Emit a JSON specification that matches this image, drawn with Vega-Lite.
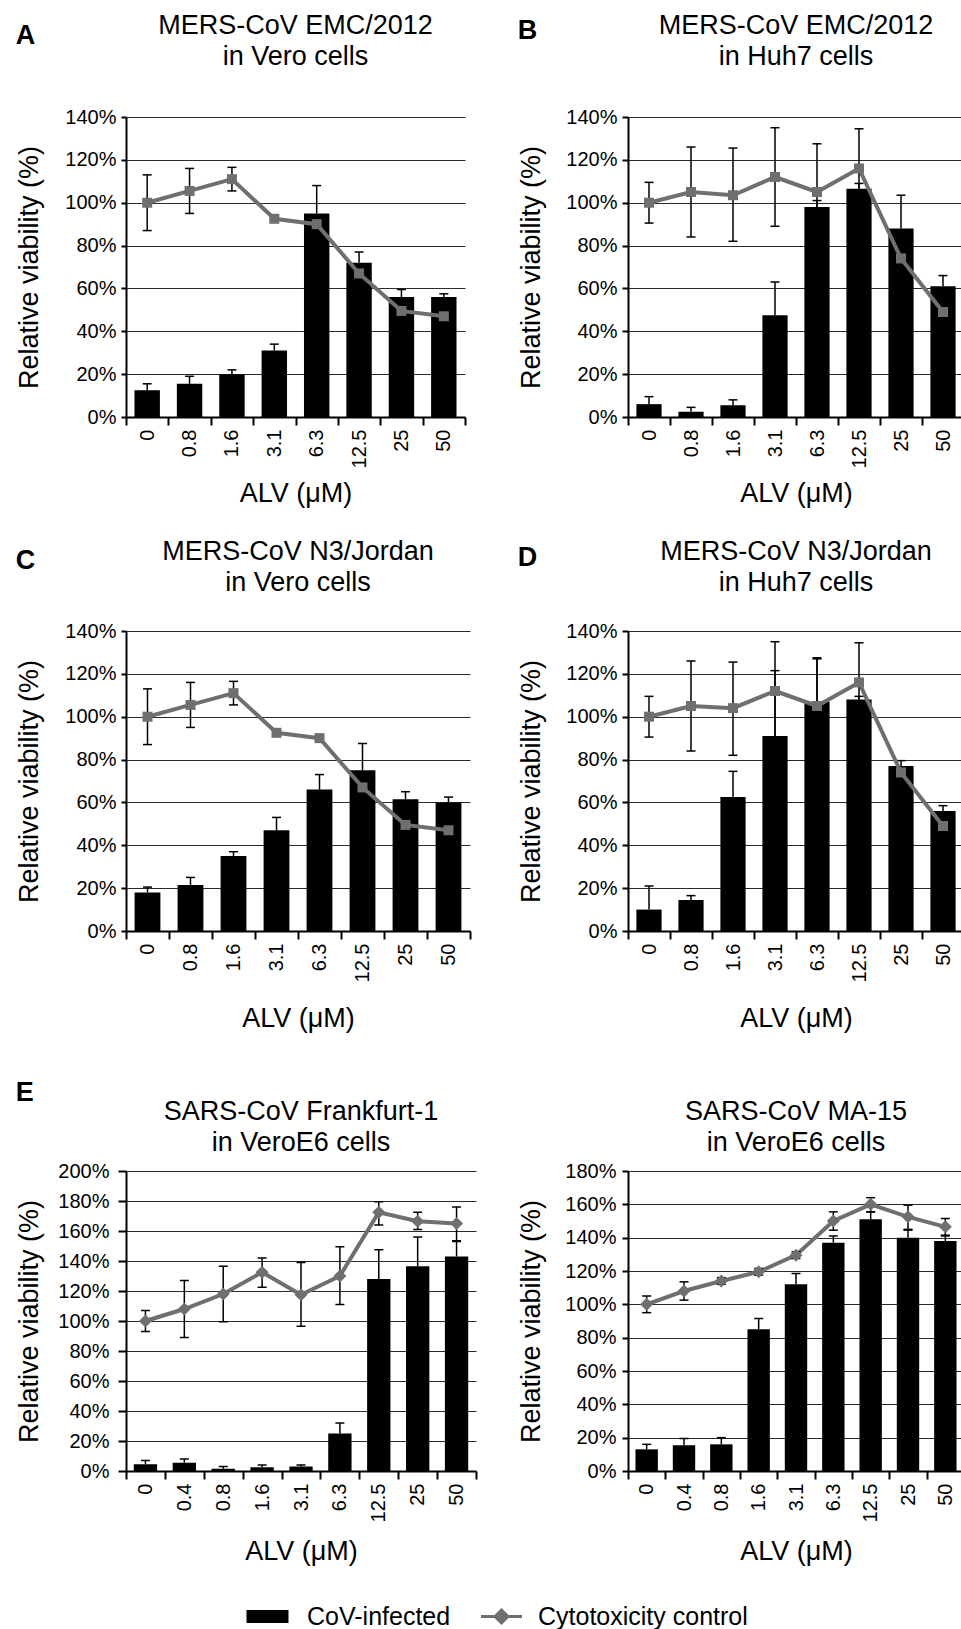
{
  "$schema": "https://vega.github.io/schema/vega-lite/v6.json",
  "padding": {"left": 15, "top": 12, "right": 0, "bottom": 64},
  "config": {
    "font": "Liberation Sans",
    "view": {"stroke": null},
    "title": {"fontSize": 27, "fontWeight": "normal", "lineHeight": 31, "color": "#000000", "frame": "group", "anchor": "middle"},
    "axis": {"labelFontSize": 20, "labelColor": "#000000", "titleFontSize": 27, "titleFontWeight": "normal", "titleColor": "#000000", "domainColor": "#000000", "domainWidth": 2, "tickColor": "#000000", "tickWidth": 2, "labelOverlap": false},
    "axisY": {"grid": true, "gridColor": "#2a2a2a", "gridWidth": 1},
    "axisX": {"grid": false, "labelAngle": -90, "tickSize": 8, "labelPadding": 4},
    "legend": {"labelFontSize": 25, "labelColor": "#000000", "padding": 0, "labelLimit": 400}
  },
  "datasets": {
    "A": [
      {"conc": "0", "inf": 12.5, "inf_hi": 15.5, "ctl": 100, "ctl_lo": 87, "ctl_hi": 113},
      {"conc": "0.8", "inf": 15.5, "inf_hi": 19, "ctl": 105.5, "ctl_lo": 95, "ctl_hi": 116},
      {"conc": "1.6", "inf": 20, "inf_hi": 22, "ctl": 111, "ctl_lo": 105.5, "ctl_hi": 116.5},
      {"conc": "3.1", "inf": 31, "inf_hi": 34, "ctl": 92.5, "ctl_lo": 92.5, "ctl_hi": 92.5},
      {"conc": "6.3", "inf": 95, "inf_hi": 108, "ctl": 90, "ctl_lo": 90, "ctl_hi": 90},
      {"conc": "12.5", "inf": 72, "inf_hi": 77, "ctl": 67, "ctl_lo": 67, "ctl_hi": 67},
      {"conc": "25", "inf": 56, "inf_hi": 59.5, "ctl": 49.5, "ctl_lo": 49.5, "ctl_hi": 49.5},
      {"conc": "50", "inf": 56, "inf_hi": 57.5, "ctl": 47, "ctl_lo": 47, "ctl_hi": 47}
    ],
    "B": [
      {"conc": "0", "inf": 6, "inf_hi": 9.5, "ctl": 100, "ctl_lo": 90.5, "ctl_hi": 109.5},
      {"conc": "0.8", "inf": 2.5, "inf_hi": 4.5, "ctl": 105, "ctl_lo": 84, "ctl_hi": 126},
      {"conc": "1.6", "inf": 5.5, "inf_hi": 8, "ctl": 103.5, "ctl_lo": 82, "ctl_hi": 125.5},
      {"conc": "3.1", "inf": 47.5, "inf_hi": 63, "ctl": 112, "ctl_lo": 89, "ctl_hi": 135},
      {"conc": "6.3", "inf": 98, "inf_hi": 101, "ctl": 105, "ctl_lo": 83, "ctl_hi": 127.5},
      {"conc": "12.5", "inf": 106.5, "inf_hi": 109, "ctl": 116, "ctl_lo": 98, "ctl_hi": 134.5},
      {"conc": "25", "inf": 88, "inf_hi": 103.5, "ctl": 74, "ctl_lo": 74, "ctl_hi": 74},
      {"conc": "50", "inf": 61, "inf_hi": 66, "ctl": 49, "ctl_lo": 49, "ctl_hi": 49}
    ],
    "C": [
      {"conc": "0", "inf": 18, "inf_hi": 20.5, "ctl": 100, "ctl_lo": 87, "ctl_hi": 113},
      {"conc": "0.8", "inf": 21.5, "inf_hi": 25, "ctl": 105.5, "ctl_lo": 95, "ctl_hi": 116},
      {"conc": "1.6", "inf": 35, "inf_hi": 37, "ctl": 111, "ctl_lo": 105.5, "ctl_hi": 116.5},
      {"conc": "3.1", "inf": 47, "inf_hi": 53, "ctl": 92.5, "ctl_lo": 92.5, "ctl_hi": 92.5},
      {"conc": "6.3", "inf": 66, "inf_hi": 73, "ctl": 90, "ctl_lo": 90, "ctl_hi": 90},
      {"conc": "12.5", "inf": 75, "inf_hi": 87.5, "ctl": 67, "ctl_lo": 67, "ctl_hi": 67},
      {"conc": "25", "inf": 61.5, "inf_hi": 65, "ctl": 49.5, "ctl_lo": 49.5, "ctl_hi": 49.5},
      {"conc": "50", "inf": 60, "inf_hi": 62.5, "ctl": 47, "ctl_lo": 47, "ctl_hi": 47}
    ],
    "D": [
      {"conc": "0", "inf": 10, "inf_hi": 21, "ctl": 100, "ctl_lo": 90.5, "ctl_hi": 109.5},
      {"conc": "0.8", "inf": 14.5, "inf_hi": 16.5, "ctl": 105, "ctl_lo": 84, "ctl_hi": 126},
      {"conc": "1.6", "inf": 62.5, "inf_hi": 74.5, "ctl": 104, "ctl_lo": 82, "ctl_hi": 125.5},
      {"conc": "3.1", "inf": 91, "inf_hi": 121.5, "ctl": 112, "ctl_lo": 89, "ctl_hi": 135},
      {"conc": "6.3", "inf": 107, "inf_hi": 127, "ctl": 105, "ctl_lo": 83, "ctl_hi": 127.5},
      {"conc": "12.5", "inf": 108, "inf_hi": 109.5, "ctl": 116, "ctl_lo": 98, "ctl_hi": 134.5},
      {"conc": "25", "inf": 77, "inf_hi": 79.5, "ctl": 74, "ctl_lo": 74, "ctl_hi": 74},
      {"conc": "50", "inf": 56, "inf_hi": 58.5, "ctl": 49, "ctl_lo": 49, "ctl_hi": 49}
    ],
    "E": [
      {"conc": "0", "inf": 4.5, "inf_hi": 7, "ctl": 100, "ctl_lo": 93, "ctl_hi": 107},
      {"conc": "0.4", "inf": 5.5, "inf_hi": 8, "ctl": 108, "ctl_lo": 89, "ctl_hi": 127},
      {"conc": "0.8", "inf": 1.5, "inf_hi": 3, "ctl": 118, "ctl_lo": 99.5, "ctl_hi": 136.5},
      {"conc": "1.6", "inf": 2.5, "inf_hi": 4, "ctl": 132.5, "ctl_lo": 122.5, "ctl_hi": 142},
      {"conc": "3.1", "inf": 3, "inf_hi": 4, "ctl": 117.5, "ctl_lo": 96.5, "ctl_hi": 139},
      {"conc": "6.3", "inf": 25, "inf_hi": 32, "ctl": 130, "ctl_lo": 111, "ctl_hi": 149.5},
      {"conc": "12.5", "inf": 128, "inf_hi": 147.5, "ctl": 172.5, "ctl_lo": 164, "ctl_hi": 179.5},
      {"conc": "25", "inf": 136.5, "inf_hi": 156, "ctl": 166.5, "ctl_lo": 161, "ctl_hi": 172.5},
      {"conc": "50", "inf": 143, "inf_hi": 153, "ctl": 165, "ctl_lo": 153.5, "ctl_hi": 176}
    ],
    "F": [
      {"conc": "0", "inf": 13, "inf_hi": 16, "ctl": 100, "ctl_lo": 95, "ctl_hi": 105},
      {"conc": "0.4", "inf": 15.5, "inf_hi": 19.5, "ctl": 108, "ctl_lo": 102.5, "ctl_hi": 113.5},
      {"conc": "0.8", "inf": 16, "inf_hi": 20, "ctl": 114, "ctl_lo": 112, "ctl_hi": 116},
      {"conc": "1.6", "inf": 85, "inf_hi": 91.5, "ctl": 119.5, "ctl_lo": 117.5, "ctl_hi": 121.5},
      {"conc": "3.1", "inf": 112, "inf_hi": 118.5, "ctl": 129.5, "ctl_lo": 127.5, "ctl_hi": 131.5},
      {"conc": "6.3", "inf": 137, "inf_hi": 141, "ctl": 150, "ctl_lo": 144.5, "ctl_hi": 155.5},
      {"conc": "12.5", "inf": 151, "inf_hi": 155.5, "ctl": 160, "ctl_lo": 155.5, "ctl_hi": 164},
      {"conc": "25", "inf": 140, "inf_hi": 145, "ctl": 152.5, "ctl_lo": 144.5, "ctl_hi": 159.5},
      {"conc": "50", "inf": 138, "inf_hi": 141, "ctl": 146.5, "ctl_lo": 141.5, "ctl_hi": 151.5}
    ]
  },
  "spacing": 47,
  "vconcat": [
    {
      "spacing": 31,
      "vconcat": [
        {
          "spacing": 51,
          "hconcat": [
            {
              "title": {"text": "A", "anchor": "start", "frame": "bounds", "offset": -38, "fontSize": 27, "fontWeight": "bold"},
              "vconcat": [{
                "width": 339, "height": 300,
                "title": {"text": ["MERS-CoV EMC/2012", "in Vero cells"], "offset": 36},
                "data": {"name": "A"},
                "encoding": {"x": {"field": "conc", "type": "ordinal", "sort": ["0","0.8","1.6","3.1","6.3","12.5","25","50"], "scale": {"paddingInner": 0, "paddingOuter": 0}, "axis": {"title": "ALV (μM)", "titlePadding": 13, "tickBand": "extent"}}},
                "layer": [
                  {"mark": {"type": "bar", "width": {"band": 0.6}}, "encoding": {"y": {"field": "inf", "type": "quantitative", "scale": {"domain": [0, 140], "nice": false}, "axis": {"title": "Relative viability (%)", "values": [0,20,40,60,80,100,120,140], "labelExpr": "datum.value + '%'", "tickSize": 5, "labelPadding": 5, "titlePadding": 21}}, "fill": {"datum": "CoV-infected", "scale": {"range": ["#000000"]}, "legend": {"orient": "none", "legendX": 129, "legendY": 1487, "title": null, "symbolType": "M-2,-0.62H2V0.62H-2Z", "symbolSize": 441, "symbolStrokeWidth": 0, "labelOffset": 27}}}},
                  {"mark": {"type": "rule", "color": "#000000", "strokeWidth": 1.5}, "encoding": {"y": {"field": "inf", "type": "quantitative", "axis": {"title": "Relative viability (%)", "values": [0,20,40,60,80,100,120,140], "labelExpr": "datum.value + '%'", "tickSize": 5, "labelPadding": 5, "titlePadding": 21}}, "y2": {"field": "inf_hi"}}},
                  {"mark": {"type": "tick", "color": "#000000", "thickness": 1.5, "size": 9, "opacity": 1}, "encoding": {"y": {"field": "inf_hi", "type": "quantitative", "axis": {"title": "Relative viability (%)", "values": [0,20,40,60,80,100,120,140], "labelExpr": "datum.value + '%'", "tickSize": 5, "labelPadding": 5, "titlePadding": 21}}}},
                  {"mark": {"type": "line", "strokeWidth": 4}, "encoding": {"y": {"field": "ctl", "type": "quantitative", "axis": {"title": "Relative viability (%)", "values": [0,20,40,60,80,100,120,140], "labelExpr": "datum.value + '%'", "tickSize": 5, "labelPadding": 5, "titlePadding": 21}}, "stroke": {"datum": "Cytotoxicity control", "scale": {"range": ["#6f6f6f"]}, "legend": {"orient": "none", "legendX": 363, "legendY": 1487, "title": null, "symbolType": "M-2,0H2M0,-0.63L0.63,0L0,0.63L-0.63,0Z", "symbolSize": 420, "symbolStrokeWidth": 3, "symbolFillColor": "#6f6f6f", "labelOffset": 24}}}},
                  {"mark": {"type": "rule", "color": "#000000", "strokeWidth": 1.5}, "encoding": {"y": {"field": "ctl_lo", "type": "quantitative", "axis": {"title": "Relative viability (%)", "values": [0,20,40,60,80,100,120,140], "labelExpr": "datum.value + '%'", "tickSize": 5, "labelPadding": 5, "titlePadding": 21}}, "y2": {"field": "ctl_hi"}}},
                  {"mark": {"type": "tick", "color": "#000000", "thickness": 1.5, "size": 9, "opacity": 1}, "encoding": {"y": {"field": "ctl_lo", "type": "quantitative", "axis": {"title": "Relative viability (%)", "values": [0,20,40,60,80,100,120,140], "labelExpr": "datum.value + '%'", "tickSize": 5, "labelPadding": 5, "titlePadding": 21}}}},
                  {"mark": {"type": "tick", "color": "#000000", "thickness": 1.5, "size": 9, "opacity": 1}, "encoding": {"y": {"field": "ctl_hi", "type": "quantitative", "axis": {"title": "Relative viability (%)", "values": [0,20,40,60,80,100,120,140], "labelExpr": "datum.value + '%'", "tickSize": 5, "labelPadding": 5, "titlePadding": 21}}}},
                  {"mark": {"type": "point", "shape": "square", "filled": true, "size": 100, "color": "#6f6f6f", "opacity": 1}, "encoding": {"y": {"field": "ctl", "type": "quantitative", "axis": {"title": "Relative viability (%)", "values": [0,20,40,60,80,100,120,140], "labelExpr": "datum.value + '%'", "tickSize": 5, "labelPadding": 5, "titlePadding": 21}}}}
                ]
              }]
            },
            {
              "title": {"text": "B", "anchor": "start", "frame": "bounds", "offset": -33, "fontSize": 27, "fontWeight": "bold"},
              "vconcat": [{
                "width": 336, "height": 300,
                "title": {"text": ["MERS-CoV EMC/2012", "in Huh7 cells"], "offset": 36},
                "data": {"name": "B"},
                "encoding": {"x": {"field": "conc", "type": "ordinal", "sort": ["0","0.8","1.6","3.1","6.3","12.5","25","50"], "scale": {"paddingInner": 0, "paddingOuter": 0}, "axis": {"title": "ALV (μM)", "titlePadding": 13, "tickBand": "extent"}}},
                "layer": [
                  {"mark": {"type": "bar", "width": {"band": 0.6}}, "encoding": {"y": {"field": "inf", "type": "quantitative", "scale": {"domain": [0, 140], "nice": false}, "axis": {"title": "Relative viability (%)", "values": [0,20,40,60,80,100,120,140], "labelExpr": "datum.value + '%'", "tickSize": 6, "labelPadding": 5, "titlePadding": 20}}, "fill": {"datum": "CoV-infected", "scale": {"range": ["#000000"]}, "legend": {"orient": "none", "legendX": 129, "legendY": 1487, "title": null, "symbolType": "M-2,-0.62H2V0.62H-2Z", "symbolSize": 441, "symbolStrokeWidth": 0, "labelOffset": 27}}}},
                  {"mark": {"type": "rule", "color": "#000000", "strokeWidth": 1.5}, "encoding": {"y": {"field": "inf", "type": "quantitative", "axis": {"title": "Relative viability (%)", "values": [0,20,40,60,80,100,120,140], "labelExpr": "datum.value + '%'", "tickSize": 6, "labelPadding": 5, "titlePadding": 20}}, "y2": {"field": "inf_hi"}}},
                  {"mark": {"type": "tick", "color": "#000000", "thickness": 1.5, "size": 9, "opacity": 1}, "encoding": {"y": {"field": "inf_hi", "type": "quantitative", "axis": {"title": "Relative viability (%)", "values": [0,20,40,60,80,100,120,140], "labelExpr": "datum.value + '%'", "tickSize": 6, "labelPadding": 5, "titlePadding": 20}}}},
                  {"mark": {"type": "line", "strokeWidth": 4}, "encoding": {"y": {"field": "ctl", "type": "quantitative", "axis": {"title": "Relative viability (%)", "values": [0,20,40,60,80,100,120,140], "labelExpr": "datum.value + '%'", "tickSize": 6, "labelPadding": 5, "titlePadding": 20}}, "stroke": {"datum": "Cytotoxicity control", "scale": {"range": ["#6f6f6f"]}, "legend": {"orient": "none", "legendX": 363, "legendY": 1487, "title": null, "symbolType": "M-2,0H2M0,-0.63L0.63,0L0,0.63L-0.63,0Z", "symbolSize": 420, "symbolStrokeWidth": 3, "symbolFillColor": "#6f6f6f", "labelOffset": 24}}}},
                  {"mark": {"type": "rule", "color": "#000000", "strokeWidth": 1.5}, "encoding": {"y": {"field": "ctl_lo", "type": "quantitative", "axis": {"title": "Relative viability (%)", "values": [0,20,40,60,80,100,120,140], "labelExpr": "datum.value + '%'", "tickSize": 6, "labelPadding": 5, "titlePadding": 20}}, "y2": {"field": "ctl_hi"}}},
                  {"mark": {"type": "tick", "color": "#000000", "thickness": 1.5, "size": 9, "opacity": 1}, "encoding": {"y": {"field": "ctl_lo", "type": "quantitative", "axis": {"title": "Relative viability (%)", "values": [0,20,40,60,80,100,120,140], "labelExpr": "datum.value + '%'", "tickSize": 6, "labelPadding": 5, "titlePadding": 20}}}},
                  {"mark": {"type": "tick", "color": "#000000", "thickness": 1.5, "size": 9, "opacity": 1}, "encoding": {"y": {"field": "ctl_hi", "type": "quantitative", "axis": {"title": "Relative viability (%)", "values": [0,20,40,60,80,100,120,140], "labelExpr": "datum.value + '%'", "tickSize": 6, "labelPadding": 5, "titlePadding": 20}}}},
                  {"mark": {"type": "point", "shape": "square", "filled": true, "size": 100, "color": "#6f6f6f", "opacity": 1}, "encoding": {"y": {"field": "ctl", "type": "quantitative", "axis": {"title": "Relative viability (%)", "values": [0,20,40,60,80,100,120,140], "labelExpr": "datum.value + '%'", "tickSize": 6, "labelPadding": 5, "titlePadding": 20}}}}
                ]
              }]
            }
          ]
        },
        {
          "spacing": 46,
          "hconcat": [
            {
              "title": {"text": "C", "anchor": "start", "frame": "bounds", "offset": -37, "fontSize": 27, "fontWeight": "bold"},
              "vconcat": [{
                "width": 344, "height": 300,
                "title": {"text": ["MERS-CoV N3/Jordan", "in Vero cells"], "offset": 24},
                "data": {"name": "C"},
                "encoding": {"x": {"field": "conc", "type": "ordinal", "sort": ["0","0.8","1.6","3.1","6.3","12.5","25","50"], "scale": {"paddingInner": 0, "paddingOuter": 0}, "axis": {"title": "ALV (μM)", "titlePadding": 24, "tickBand": "extent"}}},
                "layer": [
                  {"mark": {"type": "bar", "width": {"band": 0.6}}, "encoding": {"y": {"field": "inf", "type": "quantitative", "scale": {"domain": [0, 140], "nice": false}, "axis": {"title": "Relative viability (%)", "values": [0,20,40,60,80,100,120,140], "labelExpr": "datum.value + '%'", "tickSize": 5, "labelPadding": 5, "titlePadding": 21}}, "fill": {"datum": "CoV-infected", "scale": {"range": ["#000000"]}, "legend": {"orient": "none", "legendX": 129, "legendY": 1487, "title": null, "symbolType": "M-2,-0.62H2V0.62H-2Z", "symbolSize": 441, "symbolStrokeWidth": 0, "labelOffset": 27}}}},
                  {"mark": {"type": "rule", "color": "#000000", "strokeWidth": 1.5}, "encoding": {"y": {"field": "inf", "type": "quantitative", "axis": {"title": "Relative viability (%)", "values": [0,20,40,60,80,100,120,140], "labelExpr": "datum.value + '%'", "tickSize": 5, "labelPadding": 5, "titlePadding": 21}}, "y2": {"field": "inf_hi"}}},
                  {"mark": {"type": "tick", "color": "#000000", "thickness": 1.5, "size": 9, "opacity": 1}, "encoding": {"y": {"field": "inf_hi", "type": "quantitative", "axis": {"title": "Relative viability (%)", "values": [0,20,40,60,80,100,120,140], "labelExpr": "datum.value + '%'", "tickSize": 5, "labelPadding": 5, "titlePadding": 21}}}},
                  {"mark": {"type": "line", "strokeWidth": 4}, "encoding": {"y": {"field": "ctl", "type": "quantitative", "axis": {"title": "Relative viability (%)", "values": [0,20,40,60,80,100,120,140], "labelExpr": "datum.value + '%'", "tickSize": 5, "labelPadding": 5, "titlePadding": 21}}, "stroke": {"datum": "Cytotoxicity control", "scale": {"range": ["#6f6f6f"]}, "legend": {"orient": "none", "legendX": 363, "legendY": 1487, "title": null, "symbolType": "M-2,0H2M0,-0.63L0.63,0L0,0.63L-0.63,0Z", "symbolSize": 420, "symbolStrokeWidth": 3, "symbolFillColor": "#6f6f6f", "labelOffset": 24}}}},
                  {"mark": {"type": "rule", "color": "#000000", "strokeWidth": 1.5}, "encoding": {"y": {"field": "ctl_lo", "type": "quantitative", "axis": {"title": "Relative viability (%)", "values": [0,20,40,60,80,100,120,140], "labelExpr": "datum.value + '%'", "tickSize": 5, "labelPadding": 5, "titlePadding": 21}}, "y2": {"field": "ctl_hi"}}},
                  {"mark": {"type": "tick", "color": "#000000", "thickness": 1.5, "size": 9, "opacity": 1}, "encoding": {"y": {"field": "ctl_lo", "type": "quantitative", "axis": {"title": "Relative viability (%)", "values": [0,20,40,60,80,100,120,140], "labelExpr": "datum.value + '%'", "tickSize": 5, "labelPadding": 5, "titlePadding": 21}}}},
                  {"mark": {"type": "tick", "color": "#000000", "thickness": 1.5, "size": 9, "opacity": 1}, "encoding": {"y": {"field": "ctl_hi", "type": "quantitative", "axis": {"title": "Relative viability (%)", "values": [0,20,40,60,80,100,120,140], "labelExpr": "datum.value + '%'", "tickSize": 5, "labelPadding": 5, "titlePadding": 21}}}},
                  {"mark": {"type": "point", "shape": "square", "filled": true, "size": 100, "color": "#6f6f6f", "opacity": 1}, "encoding": {"y": {"field": "ctl", "type": "quantitative", "axis": {"title": "Relative viability (%)", "values": [0,20,40,60,80,100,120,140], "labelExpr": "datum.value + '%'", "tickSize": 5, "labelPadding": 5, "titlePadding": 21}}}}
                ]
              }]
            },
            {
              "title": {"text": "D", "anchor": "start", "frame": "bounds", "offset": -34, "fontSize": 27, "fontWeight": "bold"},
              "vconcat": [{
                "width": 336, "height": 300,
                "title": {"text": ["MERS-CoV N3/Jordan", "in Huh7 cells"], "offset": 24},
                "data": {"name": "D"},
                "encoding": {"x": {"field": "conc", "type": "ordinal", "sort": ["0","0.8","1.6","3.1","6.3","12.5","25","50"], "scale": {"paddingInner": 0, "paddingOuter": 0}, "axis": {"title": "ALV (μM)", "titlePadding": 24, "tickBand": "extent"}}},
                "layer": [
                  {"mark": {"type": "bar", "width": {"band": 0.6}}, "encoding": {"y": {"field": "inf", "type": "quantitative", "scale": {"domain": [0, 140], "nice": false}, "axis": {"title": "Relative viability (%)", "values": [0,20,40,60,80,100,120,140], "labelExpr": "datum.value + '%'", "tickSize": 6, "labelPadding": 5, "titlePadding": 20}}, "fill": {"datum": "CoV-infected", "scale": {"range": ["#000000"]}, "legend": {"orient": "none", "legendX": 129, "legendY": 1487, "title": null, "symbolType": "M-2,-0.62H2V0.62H-2Z", "symbolSize": 441, "symbolStrokeWidth": 0, "labelOffset": 27}}}},
                  {"mark": {"type": "rule", "color": "#000000", "strokeWidth": 1.5}, "encoding": {"y": {"field": "inf", "type": "quantitative", "axis": {"title": "Relative viability (%)", "values": [0,20,40,60,80,100,120,140], "labelExpr": "datum.value + '%'", "tickSize": 6, "labelPadding": 5, "titlePadding": 20}}, "y2": {"field": "inf_hi"}}},
                  {"mark": {"type": "tick", "color": "#000000", "thickness": 1.5, "size": 9, "opacity": 1}, "encoding": {"y": {"field": "inf_hi", "type": "quantitative", "axis": {"title": "Relative viability (%)", "values": [0,20,40,60,80,100,120,140], "labelExpr": "datum.value + '%'", "tickSize": 6, "labelPadding": 5, "titlePadding": 20}}}},
                  {"mark": {"type": "line", "strokeWidth": 4}, "encoding": {"y": {"field": "ctl", "type": "quantitative", "axis": {"title": "Relative viability (%)", "values": [0,20,40,60,80,100,120,140], "labelExpr": "datum.value + '%'", "tickSize": 6, "labelPadding": 5, "titlePadding": 20}}, "stroke": {"datum": "Cytotoxicity control", "scale": {"range": ["#6f6f6f"]}, "legend": {"orient": "none", "legendX": 363, "legendY": 1487, "title": null, "symbolType": "M-2,0H2M0,-0.63L0.63,0L0,0.63L-0.63,0Z", "symbolSize": 420, "symbolStrokeWidth": 3, "symbolFillColor": "#6f6f6f", "labelOffset": 24}}}},
                  {"mark": {"type": "rule", "color": "#000000", "strokeWidth": 1.5}, "encoding": {"y": {"field": "ctl_lo", "type": "quantitative", "axis": {"title": "Relative viability (%)", "values": [0,20,40,60,80,100,120,140], "labelExpr": "datum.value + '%'", "tickSize": 6, "labelPadding": 5, "titlePadding": 20}}, "y2": {"field": "ctl_hi"}}},
                  {"mark": {"type": "tick", "color": "#000000", "thickness": 1.5, "size": 9, "opacity": 1}, "encoding": {"y": {"field": "ctl_lo", "type": "quantitative", "axis": {"title": "Relative viability (%)", "values": [0,20,40,60,80,100,120,140], "labelExpr": "datum.value + '%'", "tickSize": 6, "labelPadding": 5, "titlePadding": 20}}}},
                  {"mark": {"type": "tick", "color": "#000000", "thickness": 1.5, "size": 9, "opacity": 1}, "encoding": {"y": {"field": "ctl_hi", "type": "quantitative", "axis": {"title": "Relative viability (%)", "values": [0,20,40,60,80,100,120,140], "labelExpr": "datum.value + '%'", "tickSize": 6, "labelPadding": 5, "titlePadding": 20}}}},
                  {"mark": {"type": "point", "shape": "square", "filled": true, "size": 100, "color": "#6f6f6f", "opacity": 1}, "encoding": {"y": {"field": "ctl", "type": "quantitative", "axis": {"title": "Relative viability (%)", "values": [0,20,40,60,80,100,120,140], "labelExpr": "datum.value + '%'", "tickSize": 6, "labelPadding": 5, "titlePadding": 20}}}}
                ]
              }]
            }
          ]
        }
      ]
    },
    {
      "spacing": 40,
      "hconcat": [
        {
          "title": {"text": "E", "anchor": "start", "frame": "bounds", "offset": -9, "fontSize": 27, "fontWeight": "bold"},
          "vconcat": [{
            "width": 350, "height": 300,
            "title": {"text": ["SARS-CoV Frankfurt-1", "in VeroE6 cells"], "offset": 4},
            "data": {"name": "E"},
            "encoding": {"x": {"field": "conc", "type": "ordinal", "sort": ["0","0.4","0.8","1.6","3.1","6.3","12.5","25","50"], "scale": {"paddingInner": 0, "paddingOuter": 0}, "axis": {"title": "ALV (μM)", "titlePadding": 17, "tickBand": "extent"}}},
            "layer": [
              {"mark": {"type": "bar", "width": {"band": 0.6}}, "encoding": {"y": {"field": "inf", "type": "quantitative", "scale": {"domain": [0, 200], "nice": false}, "axis": {"title": "Relative viability (%)", "values": [0,20,40,60,80,100,120,140,160,180,200], "labelExpr": "datum.value + '%'", "tickSize": 8, "labelPadding": 9, "titlePadding": 14}}, "fill": {"datum": "CoV-infected", "scale": {"range": ["#000000"]}, "legend": {"orient": "none", "legendX": 129, "legendY": 1487, "title": null, "symbolType": "M-2,-0.62H2V0.62H-2Z", "symbolSize": 441, "symbolStrokeWidth": 0, "labelOffset": 27}}}},
              {"mark": {"type": "rule", "color": "#000000", "strokeWidth": 1.5}, "encoding": {"y": {"field": "inf", "type": "quantitative", "axis": {"title": "Relative viability (%)", "values": [0,20,40,60,80,100,120,140,160,180,200], "labelExpr": "datum.value + '%'", "tickSize": 8, "labelPadding": 9, "titlePadding": 14}}, "y2": {"field": "inf_hi"}}},
              {"mark": {"type": "tick", "color": "#000000", "thickness": 1.5, "size": 9, "opacity": 1}, "encoding": {"y": {"field": "inf_hi", "type": "quantitative", "axis": {"title": "Relative viability (%)", "values": [0,20,40,60,80,100,120,140,160,180,200], "labelExpr": "datum.value + '%'", "tickSize": 8, "labelPadding": 9, "titlePadding": 14}}}},
              {"mark": {"type": "line", "strokeWidth": 4}, "encoding": {"y": {"field": "ctl", "type": "quantitative", "axis": {"title": "Relative viability (%)", "values": [0,20,40,60,80,100,120,140,160,180,200], "labelExpr": "datum.value + '%'", "tickSize": 8, "labelPadding": 9, "titlePadding": 14}}, "stroke": {"datum": "Cytotoxicity control", "scale": {"range": ["#6f6f6f"]}, "legend": {"orient": "none", "legendX": 363, "legendY": 1487, "title": null, "symbolType": "M-2,0H2M0,-0.63L0.63,0L0,0.63L-0.63,0Z", "symbolSize": 420, "symbolStrokeWidth": 3, "symbolFillColor": "#6f6f6f", "labelOffset": 24}}}},
              {"mark": {"type": "rule", "color": "#000000", "strokeWidth": 1.5}, "encoding": {"y": {"field": "ctl_lo", "type": "quantitative", "axis": {"title": "Relative viability (%)", "values": [0,20,40,60,80,100,120,140,160,180,200], "labelExpr": "datum.value + '%'", "tickSize": 8, "labelPadding": 9, "titlePadding": 14}}, "y2": {"field": "ctl_hi"}}},
              {"mark": {"type": "tick", "color": "#000000", "thickness": 1.5, "size": 9, "opacity": 1}, "encoding": {"y": {"field": "ctl_lo", "type": "quantitative", "axis": {"title": "Relative viability (%)", "values": [0,20,40,60,80,100,120,140,160,180,200], "labelExpr": "datum.value + '%'", "tickSize": 8, "labelPadding": 9, "titlePadding": 14}}}},
              {"mark": {"type": "tick", "color": "#000000", "thickness": 1.5, "size": 9, "opacity": 1}, "encoding": {"y": {"field": "ctl_hi", "type": "quantitative", "axis": {"title": "Relative viability (%)", "values": [0,20,40,60,80,100,120,140,160,180,200], "labelExpr": "datum.value + '%'", "tickSize": 8, "labelPadding": 9, "titlePadding": 14}}}},
              {"mark": {"type": "point", "shape": "diamond", "filled": true, "size": 170, "color": "#6f6f6f", "opacity": 1}, "encoding": {"y": {"field": "ctl", "type": "quantitative", "axis": {"title": "Relative viability (%)", "values": [0,20,40,60,80,100,120,140,160,180,200], "labelExpr": "datum.value + '%'", "tickSize": 8, "labelPadding": 9, "titlePadding": 14}}}}
            ]
          }]
        },
        {
          "vconcat": [{
            "width": 336, "height": 300,
            "title": {"text": ["SARS-CoV MA-15", "in VeroE6 cells"], "offset": 4},
            "data": {"name": "F"},
            "encoding": {"x": {"field": "conc", "type": "ordinal", "sort": ["0","0.4","0.8","1.6","3.1","6.3","12.5","25","50"], "scale": {"paddingInner": 0, "paddingOuter": 0}, "axis": {"title": "ALV (μM)", "titlePadding": 17, "tickBand": "extent"}}},
            "layer": [
              {"mark": {"type": "bar", "width": {"band": 0.6}}, "encoding": {"y": {"field": "inf", "type": "quantitative", "scale": {"domain": [0, 180], "nice": false}, "axis": {"title": "Relative viability (%)", "values": [0,20,40,60,80,100,120,140,160,180], "labelExpr": "datum.value + '%'", "tickSize": 6, "labelPadding": 6, "titlePadding": 19}}, "fill": {"datum": "CoV-infected", "scale": {"range": ["#000000"]}, "legend": {"orient": "none", "legendX": 129, "legendY": 1487, "title": null, "symbolType": "M-2,-0.62H2V0.62H-2Z", "symbolSize": 441, "symbolStrokeWidth": 0, "labelOffset": 27}}}},
              {"mark": {"type": "rule", "color": "#000000", "strokeWidth": 1.5}, "encoding": {"y": {"field": "inf", "type": "quantitative", "axis": {"title": "Relative viability (%)", "values": [0,20,40,60,80,100,120,140,160,180], "labelExpr": "datum.value + '%'", "tickSize": 6, "labelPadding": 6, "titlePadding": 19}}, "y2": {"field": "inf_hi"}}},
              {"mark": {"type": "tick", "color": "#000000", "thickness": 1.5, "size": 9, "opacity": 1}, "encoding": {"y": {"field": "inf_hi", "type": "quantitative", "axis": {"title": "Relative viability (%)", "values": [0,20,40,60,80,100,120,140,160,180], "labelExpr": "datum.value + '%'", "tickSize": 6, "labelPadding": 6, "titlePadding": 19}}}},
              {"mark": {"type": "line", "strokeWidth": 4}, "encoding": {"y": {"field": "ctl", "type": "quantitative", "axis": {"title": "Relative viability (%)", "values": [0,20,40,60,80,100,120,140,160,180], "labelExpr": "datum.value + '%'", "tickSize": 6, "labelPadding": 6, "titlePadding": 19}}, "stroke": {"datum": "Cytotoxicity control", "scale": {"range": ["#6f6f6f"]}, "legend": {"orient": "none", "legendX": 363, "legendY": 1487, "title": null, "symbolType": "M-2,0H2M0,-0.63L0.63,0L0,0.63L-0.63,0Z", "symbolSize": 420, "symbolStrokeWidth": 3, "symbolFillColor": "#6f6f6f", "labelOffset": 24}}}},
              {"mark": {"type": "rule", "color": "#000000", "strokeWidth": 1.5}, "encoding": {"y": {"field": "ctl_lo", "type": "quantitative", "axis": {"title": "Relative viability (%)", "values": [0,20,40,60,80,100,120,140,160,180], "labelExpr": "datum.value + '%'", "tickSize": 6, "labelPadding": 6, "titlePadding": 19}}, "y2": {"field": "ctl_hi"}}},
              {"mark": {"type": "tick", "color": "#000000", "thickness": 1.5, "size": 9, "opacity": 1}, "encoding": {"y": {"field": "ctl_lo", "type": "quantitative", "axis": {"title": "Relative viability (%)", "values": [0,20,40,60,80,100,120,140,160,180], "labelExpr": "datum.value + '%'", "tickSize": 6, "labelPadding": 6, "titlePadding": 19}}}},
              {"mark": {"type": "tick", "color": "#000000", "thickness": 1.5, "size": 9, "opacity": 1}, "encoding": {"y": {"field": "ctl_hi", "type": "quantitative", "axis": {"title": "Relative viability (%)", "values": [0,20,40,60,80,100,120,140,160,180], "labelExpr": "datum.value + '%'", "tickSize": 6, "labelPadding": 6, "titlePadding": 19}}}},
              {"mark": {"type": "point", "shape": "diamond", "filled": true, "size": 170, "color": "#6f6f6f", "opacity": 1}, "encoding": {"y": {"field": "ctl", "type": "quantitative", "axis": {"title": "Relative viability (%)", "values": [0,20,40,60,80,100,120,140,160,180], "labelExpr": "datum.value + '%'", "tickSize": 6, "labelPadding": 6, "titlePadding": 19}}}}
            ]
          }]
        }
      ]
    }
  ]
}
